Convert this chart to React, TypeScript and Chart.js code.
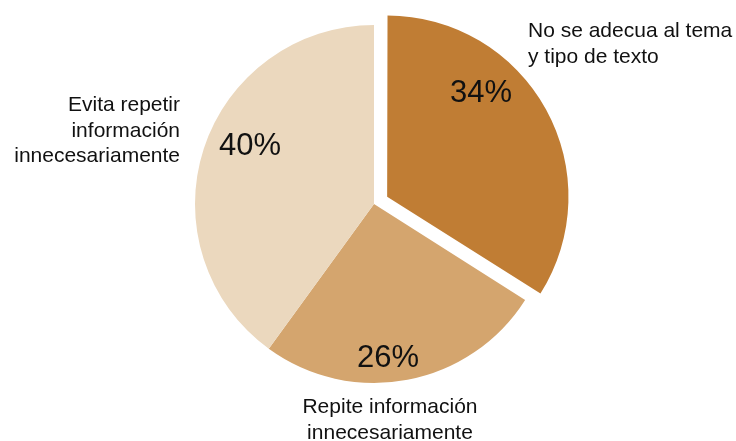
import React, { useEffect, useRef } from "react";
import { Chart, registerables } from "chart.js";

Chart.register(...registerables);

const categories: string[][] = [
  ["No se adecua al tema", "y tipo de texto"],
  ["Repite información", "innecesariamente"],
  ["Evita repetir", "información", "innecesariamente"],
];
const values = [34, 26, 40];
const percentLabels = ["34%", "26%", "40%"];
const colors = ["#C07D34", "#D4A56E", "#EBD8BE"];

const FONT = "'Liberation Sans', Arial, Helvetica, sans-serif";

// label placement relative to pie centre (pixels)
const pctPos = [
  [107, -102],
  [14, 163],
  [-124, -49],
];
const catPos = [
  { x: 154, y: -167, align: "left" as CanvasTextAlign },
  { x: 16, y: 209, align: "center" as CanvasTextAlign },
  { x: -194, y: -93, align: "right" as CanvasTextAlign },
];
const LINE_H = 25.5;

const labelPlugin = {
  id: "pieLabels",
  afterDatasetsDraw(chart: any) {
    const meta = chart.getDatasetMeta(0);
    if (!meta || !meta.data.length) return;
    const arc: any = meta.data[0];
    const cx = arc.x;
    const cy = arc.y;
    const ctx = chart.ctx as CanvasRenderingContext2D;
    ctx.save();
    ctx.fillStyle = "#111111";
    ctx.textBaseline = "alphabetic";
    ctx.font = `31px ${FONT}`;
    ctx.textAlign = "center";
    percentLabels.forEach((t, i) => {
      ctx.fillText(t, cx + pctPos[i][0], cy + pctPos[i][1]);
    });
    ctx.font = `21px ${FONT}`;
    categories.forEach((lines, i) => {
      const p = catPos[i];
      ctx.textAlign = p.align;
      lines.forEach((line, j) => {
        ctx.fillText(line, cx + p.x, cy + p.y + j * LINE_H);
      });
    });
    ctx.restore();
  },
};

export default function App() {
  const ref = useRef<HTMLCanvasElement | null>(null);
  useEffect(() => {
    if (!ref.current) return;
    const chart = new Chart(ref.current, {
      type: "pie",
      data: {
        labels: categories.map((c) => c.join(" ")),
        datasets: [
          {
            data: values,
            backgroundColor: colors,
            borderWidth: 0,
            offset: [60, 0, 0],
            radius: 179,
          } as any,
        ],
      },
      options: {
        animation: false,
        responsive: true,
        maintainAspectRatio: false,
        layout: { padding: { left: 12, right: 0, top: 0, bottom: 33 } },
        plugins: {
          legend: { display: false },
          tooltip: { enabled: false },
        },
      },
      plugins: [labelPlugin],
    });
    return () => chart.destroy();
  }, []);
  return (
    <div
      style={{
        position: "absolute",
        left: 0,
        top: 0,
        width: 736,
        height: 441,
        background: "#ffffff",
      }}
    >
      <canvas ref={ref} />
    </div>
  );
}
